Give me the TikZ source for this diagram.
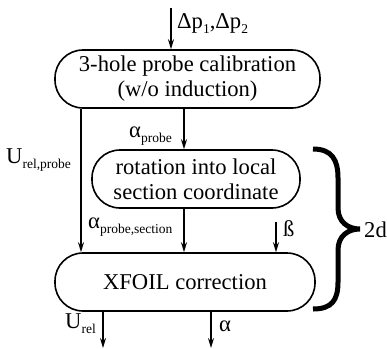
\documentclass[tikz,border=0pt]{standalone}
\usepackage{fontspec}
\setmainfont{Liberation Serif}
\usetikzlibrary{arrows.meta}
\newcommand\sbs[1]{\raisebox{-0.24em}{\fontsize{13.5}{13.5}\selectfont #1}}
\begin{document}
\begin{tikzpicture}[x=1pt,y=-1pt,
  box/.style={draw,line width=1.6pt,rounded corners=28pt,minimum height=58pt,inner sep=0pt,align=center,font=\fontsize{22.6}{25}\selectfont},
  lbl/.style={inner sep=0pt,font=\fontsize{22.6}{25}\selectfont},
  flow/.style={line width=1.4pt,-{Stealth[length=10pt,width=6pt]}},
  brace/.style={line width=5pt}]
\useasboundingbox (0,0) rectangle (387,348);
\node[box,minimum width=265pt] (cal) at (187.5,79) {3-hole probe calibration\\(w/o induction)};
\node[box,minimum width=208pt] (rot) at (196,179) {rotation into local\\section coordinate};
\node[box,minimum width=260pt] (xf) at (185,282) {XFOIL correction};
\coordinate (in) at (171,8);
\coordinate (lx) at (81,0);
\coordinate (mx) at (184,0);
\coordinate (b1) at (276,222);
\coordinate (o1) at (103,348);
\coordinate (o2) at (211,348);
\draw[flow] (in) -- (in |- cal.north);
\draw[flow] (cal.south -| lx) -- (xf.north -| lx);
\draw[flow] (cal.south -| mx) -- (rot.north -| mx);
\draw[flow] (rot.south -| mx) -- (xf.north -| mx);
\draw[flow] (b1) -- (xf.north -| b1);
\draw[flow] (xf.south -| o1) -- (o1);
\draw[flow] (xf.south -| o2) -- (o2);
\node[lbl,anchor=base west] (dp) at (177,28.5) {Δp\sbs{1},Δp\sbs{2}};
\node[lbl,anchor=base west] (ap) at (129,137) {α\sbs{probe}};
\node[lbl,anchor=base west] (urp) at (6,163) {U\sbs{rel,probe}};
\node[lbl,anchor=base west] (aps) at (88,228) {α\sbs{probe,section}};
\node[lbl,anchor=base west] (beta) at (283,236) {ß};
\node[lbl,anchor=base west] (ur) at (65,328) {U\sbs{rel}};
\node[lbl,anchor=base west] (al) at (219,331) {α};
\node[lbl,anchor=base west] (twod) at (364,237) {2d};
\draw[brace] (313,149) .. controls (332,149) and (338,160) .. (338,178) -- (338,208)
  .. controls (338,222) and (348,229) .. (360,229)
  .. controls (348,229) and (338,236) .. (338,250) -- (338,282)
  .. controls (338,300) and (332,309) .. (313,309);
\end{tikzpicture}
\end{document}
